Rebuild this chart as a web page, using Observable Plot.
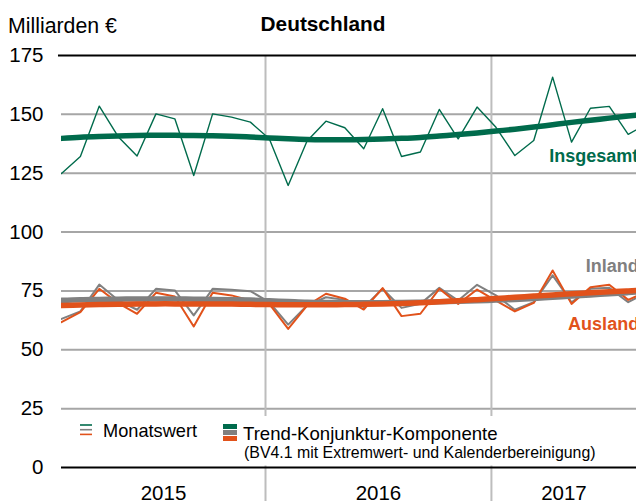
<!DOCTYPE html>
<html><head><meta charset="utf-8">
<script src="https://cdn.jsdelivr.net/npm/d3@7"></script>
<script src="https://cdn.jsdelivr.net/npm/@observablehq/plot@0.6"></script>
<style>
body{margin:0;background:#fff;font-family:"Liberation Sans",Arial,sans-serif;}
#chart{position:relative;width:636px;height:501px;overflow:hidden}
</style></head><body><div id="chart"></div>
<script>
const months = ["2015-01","2015-02","2015-03","2015-04","2015-05","2015-06","2015-07","2015-08","2015-09","2015-10","2015-11","2015-12",
                "2016-01","2016-02","2016-03","2016-04","2016-05","2016-06","2016-07","2016-08","2016-09","2016-10","2016-11","2016-12",
                "2017-01","2017-02","2017-03","2017-04","2017-05","2017-06","2017-07","2017-08"];
const insgesamt = [124.9,132.1,153.5,140.5,132.3,150.2,148.1,124.0,150.2,148.8,146.7,139.6,
                   119.8,138.7,147.1,144.3,135.4,152.4,132.1,134.0,152.1,139.6,153.1,144.5,
                   132.5,138.9,165.8,138.2,152.6,153.4,141.5,146.0];
const inland = [63.1,66.3,77.7,71.0,67.0,75.9,75.2,64.6,75.9,75.5,74.9,70.2,
                60.7,68.8,72.3,71.2,68.1,75.9,67.8,69.5,76.3,70.9,77.6,73.1,
                67.0,70.2,81.6,70.2,75.9,76.3,70.2,74.5];
const ausland = [61.7,66.0,75.9,69.8,65.3,74.2,72.6,59.9,74.2,73.1,70.9,69.5,
                 58.9,68.8,73.8,71.7,67.1,76.2,64.3,65.3,75.9,69.5,75.6,70.9,
                 66.3,69.9,83.7,69.5,76.6,77.6,71.2,74.8];
const trendInsgesamt = [139.8,140.3,140.6,140.8,141.0,141.1,141.1,141.0,140.9,140.7,140.4,140.0,
                        139.6,139.3,139.2,139.2,139.3,139.5,139.8,140.2,140.8,141.4,142.1,142.9,
                        143.7,144.6,145.6,146.6,147.5,148.4,149.3,150.2];
const trendAusland = [68.8,69.0,69.2,69.3,69.4,69.5,69.5,69.5,69.5,69.4,69.3,69.2,
                      69.1,69.1,69.1,69.2,69.3,69.5,69.7,70.0,70.4,70.8,71.3,71.8,
                      72.3,72.8,73.3,73.8,74.2,74.6,75.0,75.4];
const trendInland = [71.0,71.3,71.4,71.5,71.6,71.6,71.6,71.5,71.4,71.3,71.1,70.8,
                     70.5,70.2,70.1,70.0,70.0,70.0,70.1,70.2,70.4,70.6,70.8,71.1,
                     71.4,71.8,72.3,72.8,73.3,73.8,74.3,74.8];
const yTicks = [0,25,50,75,100,125,150,175];
const yearLabels = ["2015","2016","2017"];
const yearBoundaries = [10.8, 22.76];   // month-index positions of the year dividers
const seriesNames = ["Insgesamt","Inland","Ausland"];

const GREEN = "#006b4c", GRAY = "#808080", ORANGE = "#e1521b";
const xDomain = [0, 30.44];

const rows = (arr) => months.map((m, i) => ({i, m, v: arr[i]}));
const yearSpans = [xDomain[0], ...yearBoundaries, xDomain[1]];
const yearRows = yearLabels.map((t, k) => ({t, x: (yearSpans[k] + yearSpans[k+1]) / 2}));
const labelRows = [
  {t: seriesNames[0], x: 25.82, y: 129.8, c: GREEN},
  {t: seriesNames[1], x: 27.75, y: 83.2, c: GRAY},
  {t: seriesNames[2], x: 26.82, y: 58.6, c: ORANGE}
];

const chart = Plot.plot({
  width: 636, height: 501,
  marginTop: 55, marginBottom: 34, marginLeft: 61, marginRight: 0,
  x: {type: "linear", domain: xDomain, axis: null},
  y: {domain: [0, 175], axis: null},
  style: {fontFamily: "Liberation Sans, Arial, sans-serif", background: "white"},
  marks: [
    Plot.ruleY(yTicks.filter(d => d > 0 && d < 175), {stroke: "#a6a6a6", strokeWidth: 2}),
    Plot.ruleX(yearBoundaries, {y1: 175, y2: -16, stroke: "#bdbdbd", strokeWidth: 2}),
    Plot.line(rows(insgesamt), {x: "i", y: "v", stroke: GREEN, strokeWidth: 1.4, clip: true}),
    Plot.line(rows(trendInsgesamt), {x: "i", y: "v", stroke: GREEN, strokeWidth: 5.5, curve: "catmull-rom", clip: true}),
    Plot.line(rows(inland), {x: "i", y: "v", stroke: GRAY, strokeWidth: 2, clip: true}),
    Plot.line(rows(ausland), {x: "i", y: "v", stroke: ORANGE, strokeWidth: 2, clip: true}),
    Plot.line(rows(trendInland), {x: "i", y: "v", stroke: GRAY, strokeWidth: 5.5, curve: "catmull-rom", clip: true}),
    Plot.line(rows(trendAusland), {x: "i", y: "v", stroke: ORANGE, strokeWidth: 5.5, curve: "catmull-rom", clip: true}),
    Plot.ruleY([175], {x1: -0.16, x2: xDomain[1], stroke: "black", strokeWidth: 2}),
    Plot.ruleY([0], {stroke: "black", strokeWidth: 2}),
    Plot.axisY({ticks: yTicks, tickSize: 0, tickPadding: 18, fontSize: 20.5, label: null, fill: "black"}),
    Plot.text(yearRows, {x: "x", y: 0, text: "t", dy: 25.5, fontSize: 20.5, fill: "black"}),
    Plot.text(labelRows, {x: "x", y: "y", text: "t", fill: "c", fontSize: 18, fontWeight: "bold", textAnchor: "start", lineAnchor: "bottom"})
  ]
});
document.getElementById("chart").appendChild(chart);

const svg = d3.select(chart);
const addText = (g, x, y, size, txt, anchor = "start", weight = "normal") =>
  g.append("text").attr("x", x).attr("y", y).attr("font-size", size).attr("font-weight", weight)
   .attr("text-anchor", anchor).attr("fill", "black").text(txt);

addText(svg, 8, 33, 21.3, "Milliarden €");
addText(svg, 323, 30.5, 20.8, "Deutschland", "middle", "bold");

const lg = svg.append("g");
lg.append("rect").attr("x", 66).attr("y", 416).attr("width", 550).attr("height", 49.5).attr("fill", "white");
[GREEN, GRAY, ORANGE].forEach((c, k) => {
  lg.append("line").attr("x1", 80).attr("x2", 92).attr("y1", 425 + k * 4.7).attr("y2", 425 + k * 4.7).attr("stroke", c).attr("stroke-width", 1.6);
  lg.append("rect").attr("x", 223).attr("y", 424 + k * 6).attr("width", 14).attr("height", 5).attr("fill", c);
});
addText(lg, 103, 437, 18.2, "Monatswert");
addText(lg, 243, 440, 18.6, "Trend-Konjunktur-Komponente");
addText(lg, 244, 458, 15.9, "(BV4.1 mit Extremwert- und Kalenderbereinigung)");
</script></body></html>
